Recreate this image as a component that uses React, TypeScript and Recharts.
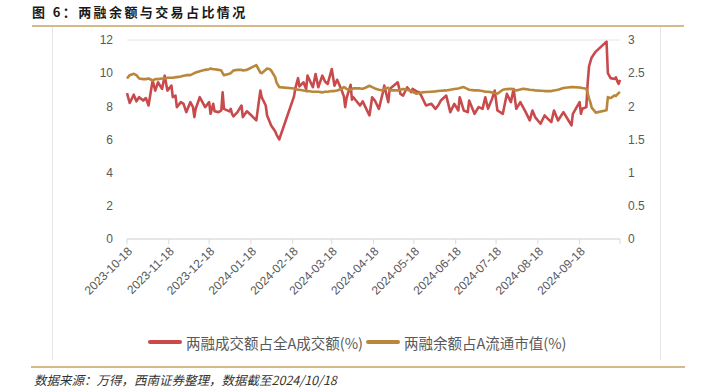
import { LineChart, Line, XAxis, YAxis, CartesianGrid, Legend } from "recharts";

// trading days sampled from the chart
const dates = [
  "2023-10-18", "2023-10-20", "2023-10-23", "2023-10-25", "2023-10-27", "2023-10-30",
  "2023-11-01", "2023-11-03", "2023-11-06", "2023-11-08", "2023-11-10", "2023-11-13",
  "2023-11-15", "2023-11-17", "2023-11-20", "2023-11-21", "2023-11-23", "2023-11-24",
  "2023-11-27", "2023-11-29", "2023-12-01", "2023-12-04", "2023-12-06", "2023-12-07",
  "2023-12-08", "2023-12-11", "2023-12-13", "2023-12-15", "2023-12-18", "2023-12-19",
  "2023-12-21", "2023-12-22", "2023-12-25", "2023-12-27", "2023-12-28", "2023-12-29",
  "2024-01-02", "2024-01-03", "2024-01-04", "2024-01-05", "2024-01-08", "2024-01-11",
  "2024-01-12", "2024-01-15", "2024-01-17", "2024-01-19", "2024-01-22", "2024-01-25",
  "2024-01-26", "2024-01-29", "2024-01-30", "2024-02-01", "2024-02-02", "2024-02-05",
  "2024-02-06", "2024-02-08", "2024-02-19", "2024-02-20", "2024-02-22", "2024-02-23",
  "2024-02-26", "2024-02-28", "2024-02-29", "2024-03-04", "2024-03-06", "2024-03-08",
  "2024-03-11", "2024-03-13", "2024-03-15", "2024-03-18", "2024-03-20", "2024-03-22",
  "2024-03-25", "2024-03-27", "2024-03-28", "2024-03-29", "2024-04-01", "2024-04-02",
  "2024-04-03", "2024-04-08", "2024-04-10", "2024-04-12", "2024-04-15", "2024-04-17",
  "2024-04-19", "2024-04-22", "2024-04-25", "2024-04-26", "2024-04-29", "2024-04-30",
  "2024-05-06", "2024-05-08", "2024-05-10", "2024-05-13", "2024-05-16", "2024-05-17",
  "2024-05-20", "2024-05-22", "2024-05-24", "2024-05-27", "2024-05-31", "2024-06-03",
  "2024-06-05", "2024-06-07", "2024-06-11", "2024-06-14", "2024-06-17", "2024-06-20",
  "2024-06-21", "2024-06-24", "2024-06-27", "2024-06-28", "2024-07-02", "2024-07-05",
  "2024-07-08", "2024-07-10", "2024-07-12", "2024-07-15", "2024-07-17", "2024-07-19",
  "2024-07-23", "2024-07-26", "2024-07-29", "2024-07-31", "2024-08-02", "2024-08-05",
  "2024-08-07", "2024-08-09", "2024-08-12", "2024-08-14", "2024-08-16", "2024-08-20",
  "2024-08-23", "2024-08-28", "2024-08-30", "2024-09-02", "2024-09-06", "2024-09-09",
  "2024-09-12", "2024-09-13", "2024-09-18", "2024-09-19", "2024-09-20", "2024-09-23",
  "2024-09-24", "2024-09-25", "2024-09-26", "2024-09-27", "2024-09-30", "2024-10-08",
  "2024-10-09", "2024-10-10", "2024-10-11", "2024-10-14", "2024-10-15", "2024-10-16",
  "2024-10-17", "2024-10-18",
];

// 两融成交额占全A成交额(%) - left axis
const tradeShare = [
  8.8, 8.2, 8.7, 8.3, 8.55, 8.35,
  8.5, 8.05, 9.55, 8.95, 9.45, 9.05,
  9.85, 8.95, 9.25, 8.55, 8.65, 7.95,
  8.25, 8.15, 7.65, 8.25, 7.95, 7.35,
  7.85, 8.55, 8.25, 7.95, 8.25, 7.55,
  8.15, 7.7, 7.65, 7.75, 8.85, 7.85,
  7.7, 7.85, 7.55, 7.4, 7.65, 8.05,
  7.35, 7.7, 7.55, 7.4, 7.15, 8.95,
  8.55, 8.05, 7.45, 7.05, 6.85, 6.5,
  6.3, 6.0, 8.6, 9.1, 9.7, 9.2,
  9.45, 9.05, 9.85, 9.15, 9.95, 9.15,
  9.85, 9.5, 9.35, 10.25, 9.25, 9.6,
  9.05, 8.6, 7.95, 8.5, 9.3, 8.4,
  8.55, 8.05, 8.3, 7.95, 7.45, 8.55,
  8.35, 7.85, 8.85, 9.25, 8.25, 9.05,
  9.45, 8.75, 8.65, 9.15, 8.85, 9.05,
  8.9, 8.85, 8.55, 8.05, 8.15, 7.85,
  8.05, 8.35, 8.65, 7.65, 8.15, 7.75,
  8.55, 7.75, 7.65, 8.35, 7.55, 7.95,
  7.85, 8.55, 7.85, 8.45, 8.95, 7.75,
  7.55, 8.75, 8.25, 9.05, 7.85, 8.25,
  7.95, 7.65, 7.15, 7.75, 7.35, 6.95,
  7.45, 7.05, 7.75, 7.15, 7.65, 7.25,
  6.85, 7.55, 8.25, 7.55, 7.85, 7.95,
  9.4, 10.4, 10.7, 10.95, 11.3, 11.9,
  10.0, 9.85, 9.7, 9.65, 9.75, 9.5,
  9.35, 9.6,
];

// 两融余额占A流通市值(%) - right axis
const balanceShare = [
  2.42, 2.47, 2.49, 2.47, 2.42, 2.41,
  2.41, 2.42, 2.39, 2.41, 2.41, 2.42,
  2.42, 2.43, 2.43, 2.43, 2.44, 2.44,
  2.45, 2.46, 2.47, 2.47, 2.49, 2.5,
  2.51, 2.53, 2.54, 2.55, 2.56, 2.57,
  2.56, 2.56, 2.55, 2.54, 2.5, 2.47,
  2.49, 2.5, 2.52, 2.54, 2.55, 2.55,
  2.54, 2.55, 2.57, 2.59, 2.62, 2.51,
  2.5, 2.55, 2.57, 2.56, 2.54, 2.44,
  2.36, 2.29, 2.27, 2.26, 2.25, 2.25,
  2.24, 2.23, 2.23, 2.22, 2.22, 2.22,
  2.21, 2.22, 2.22, 2.23, 2.23, 2.24,
  2.26, 2.29, 2.28, 2.26, 2.25, 2.26,
  2.27, 2.27, 2.265, 2.28, 2.31, 2.29,
  2.27, 2.25, 2.24, 2.27, 2.28, 2.24,
  2.24, 2.25, 2.26, 2.25, 2.23, 2.22,
  2.19, 2.2, 2.21, 2.215, 2.22, 2.225,
  2.23, 2.235, 2.24, 2.25, 2.26, 2.27,
  2.275, 2.29, 2.26, 2.25, 2.24, 2.24,
  2.23, 2.22, 2.22, 2.21, 2.2, 2.19,
  2.25, 2.26, 2.265, 2.25, 2.24, 2.255,
  2.265, 2.26, 2.25, 2.245, 2.24, 2.235,
  2.23, 2.23, 2.24, 2.25, 2.275, 2.285,
  2.29, 2.29, 2.285, 2.28, 2.275, 2.265,
  2.2, 2.12, 2.06, 1.98, 1.905, 1.94,
  2.14, 2.13, 2.125, 2.165, 2.155, 2.18,
  2.2, 2.215,
];

const tickLabels = [
  "2023-10-18", "2023-11-18", "2023-12-18", "2024-01-18", "2024-02-18", "2024-03-18",
  "2024-04-18", "2024-05-18", "2024-06-18", "2024-07-18", "2024-08-18", "2024-09-18",
];
const axisEnd = "2024-10-18";

const leftTicks = [0, 2, 4, 6, 8, 10, 12];
const rightTicks = [0, 0.5, 1, 1.5, 2, 2.5, 3];

const seriesNames = ["两融成交额占全A成交额(%)", "两融余额占A流通市值(%)"];

const RED = "#C84A4C";
const GOLD = "#B8873C";

const data = dates.map((d, i) => ({
  t: Date.parse(d),
  a: tradeShare[i],
  b: balanceShare[i],
}));

const xTicks = [...tickLabels, axisEnd].map((d) => Date.parse(d));
const labelFor = new Map(tickLabels.map((d) => [Date.parse(d), d]));

const cjk = '"Noto Sans CJK SC", "Noto Sans", sans-serif';
const latin = '"Liberation Sans", Arial, sans-serif';

const LegendBox = () => (
  <div
    style={{
      display: "flex",
      alignItems: "center",
      height: 24,
      paddingLeft: 61,
      fontFamily: cjk,
      fontSize: 14.5,
      color: "#595959",
      whiteSpace: "nowrap",
    }}
  >
    {[RED, GOLD].map((c, i) => (
      <span key={i} style={{ display: "flex", alignItems: "center", marginRight: 3 }}>
        <span style={{ width: 34, height: 4.5, background: c, marginRight: 4, borderRadius: 2 }} />
        {seriesNames[i]}
      </span>
    ))}
  </div>
);

export default function App() {
  return (
    <div
      style={{
        position: "absolute",
        left: 0,
        top: 0,
        width: 704,
        height: 388,
        background: "#fff",
        overflow: "hidden",
      }}
    >
      <div
        style={{
          position: "absolute",
          left: 32,
          top: 3,
          fontFamily: cjk,
          fontWeight: 700,
          fontSize: 13,
          letterSpacing: 2.4,
          color: "#1a1a1a",
          lineHeight: "18px",
        }}
      >
        图 6：两融余额与交易占比情况
      </div>
      <div style={{ position: "absolute", left: 32, top: 25, width: 652, height: 2, background: "#D6B98A" }} />

      {/* faint chart frame */}
      <div style={{ position: "absolute", left: 52, top: 27, width: 1, height: 333, background: "#e6e6e6" }} />
      <div style={{ position: "absolute", left: 660, top: 27, width: 1, height: 333, background: "#e6e6e6" }} />

      <div style={{ position: "absolute", left: 0, top: 0 }}>
        <LineChart
          width={704}
          height={360}
          data={data}
          margin={{ top: 40, right: 44, left: 87, bottom: 6 }}
        >
          <CartesianGrid vertical={false} stroke="#e6e6e6" />
          <XAxis
            dataKey="t"
            type="number"
            domain={[xTicks[0], xTicks[xTicks.length - 1]]}
            ticks={xTicks}
            interval={0}
            tickFormatter={(v: number) => labelFor.get(v) ?? ""}
            angle={-45}
            textAnchor="end"
            height={91}
            stroke="#d9d9d9"
            tickSize={5}
            tick={{ fill: "#595959", fontSize: 12, fontFamily: latin }}
          />
          <YAxis
            yAxisId="left"
            domain={[0, 12]}
            ticks={leftTicks}
            width={40}
            axisLine={false}
            tickLine={false}
            tickMargin={8}
            tick={{ fill: "#595959", fontSize: 12, fontFamily: latin }}
          />
          <YAxis
            yAxisId="right"
            orientation="right"
            domain={[0, 3]}
            ticks={rightTicks}
            width={40}
            axisLine={false}
            tickLine={false}
            tick={{ fill: "#595959", fontSize: 12, fontFamily: latin, textAnchor: "start" }}
          />
          <Legend verticalAlign="bottom" content={<LegendBox />} />
          <Line
            yAxisId="left"
            type="linear"
            dataKey="a"
            name={seriesNames[0]}
            stroke={RED}
            strokeWidth={2.6}
            dot={false}
            strokeLinejoin="round"
            isAnimationActive={false}
          />
          <Line
            yAxisId="right"
            type="linear"
            dataKey="b"
            name={seriesNames[1]}
            stroke={GOLD}
            strokeWidth={2.6}
            dot={false}
            strokeLinejoin="round"
            isAnimationActive={false}
          />
        </LineChart>
      </div>

      <div style={{ position: "absolute", left: 31, top: 366, width: 654, height: 2, background: "#D6B98A" }} />
      <div
        style={{
          position: "absolute",
          left: 34,
          top: 372,
          fontFamily: cjk,
          fontStyle: "italic",
          fontSize: 12.5,
          color: "#333",
          lineHeight: "15px",
          whiteSpace: "nowrap",
        }}
      >
        数据来源：万得，西南证券整理，数据截至2024/10/18
      </div>
    </div>
  );
}
